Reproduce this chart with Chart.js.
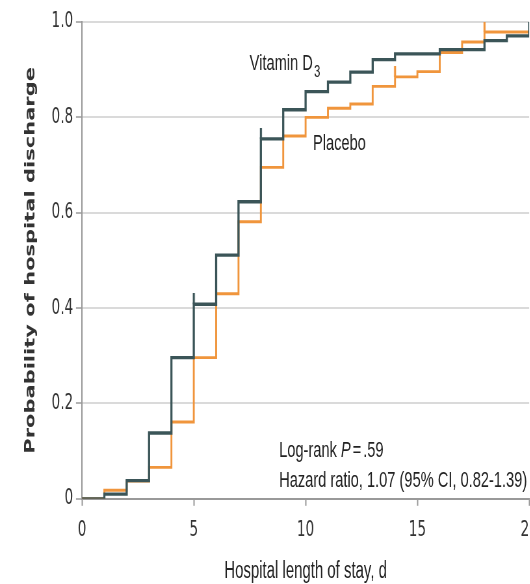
<!DOCTYPE html>
<html>
<head>
<meta charset="utf-8">
<script src="https://cdn.jsdelivr.net/npm/chart.js@4.4.1/dist/chart.umd.min.js"></script>
<style>
  html, body { margin: 0; padding: 0; background: #fff; overflow: hidden; }
  /* the figure is horizontally condensed, so draw it wide and squeeze it */
  #wrap { width: 840px; height: 584px; transform: scaleX(0.65); transform-origin: 0 0; }
</style>
</head>
<body>
<div id="wrap"><canvas id="kmChart"></canvas></div>
<script>
// hospital length of stay, days
const days = [0, 1, 2, 3, 4, 5, 6, 7, 8, 9, 10, 11, 12, 13, 14, 15, 16, 17, 18, 19, 20];

// cumulative probability of discharge at each day
const vitaminD3 = [0, 0.01, 0.038, 0.138, 0.296, 0.408, 0.511, 0.623, 0.755, 0.816, 0.854,
                   0.874, 0.895, 0.921, 0.933, 0.933, 0.942, 0.942, 0.961, 0.971, 1.0];
const placebo   = [0, 0.018, 0.037, 0.066, 0.161, 0.296, 0.430, 0.581, 0.695, 0.761, 0.800,
                   0.819, 0.828, 0.865, 0.885, 0.896, 0.936, 0.958, 0.979, 0.979, 0.979];

// censor marks
const vitaminCensored = [5, 8];
const placeboCensored = [14, 18];

const xTicks = [0, 5, 10, 15, 20];
const yTicks = [0, 0.2, 0.4, 0.6, 0.8, 1.0];

const darkColor = '#3b5558';
const orangeColor = '#f0953c';
const sans = "'Liberation Sans', Arial, sans-serif";

// small vertical tick, drawn above the point
function censorMark(color) {
    let c = document.createElement('canvas');
    c.width = 5;
    c.height = 22;
    let g = c.getContext('2d');
    g.strokeStyle = color;
    g.lineWidth = 3.2;
    g.beginPath();
    g.moveTo(2.5, 0);
    g.lineTo(2.5, 11);
    g.stroke();
    return c;
}

function curve(values) {
    return days.map((d, i) => ({ x: d, y: values[i] }));
}

function censorPoints(times, values) {
    return times.map(t => ({ x: t, y: values[days.indexOf(t)] }));
}

// text notes on the plot + x axis title
const notes = {
    id: 'notes',
    afterDatasetsDraw(chart) {
        const { ctx, scales: { x, y }, chartArea } = chart;
        ctx.save();
        ctx.fillStyle = '#222';
        ctx.textBaseline = 'alphabetic';
        ctx.textAlign = 'left';

        // Vitamin D3
        let px = x.getPixelForValue(7.5), py = y.getPixelForValue(0.90);
        ctx.font = '22.5px ' + sans;
        ctx.fillText('Vitamin D', px, py);
        let w = ctx.measureText('Vitamin D').width;
        ctx.font = '17px ' + sans;
        ctx.fillText('3', px + w + 2, py + 7);

        // Placebo
        ctx.font = '22.5px ' + sans;
        ctx.fillText('Placebo', x.getPixelForValue(10.33), y.getPixelForValue(0.732));

        // log-rank test
        px = x.getPixelForValue(8.82);
        py = y.getPixelForValue(0.087);
        ctx.fillText('Log-rank ', px, py);
        px += ctx.measureText('Log-rank ').width;
        ctx.font = 'italic 22.5px ' + sans;
        ctx.fillText('P', px, py);
        px += ctx.measureText('P').width + 3;
        ctx.font = '22.5px ' + sans;
        ctx.fillText('=', px, py);
        px += ctx.measureText('=').width + 3;
        ctx.fillText('.59', px, py);

        ctx.fillText('Hazard ratio, 1.07 (95% CI, 0.82-1.39)', x.getPixelForValue(8.82), y.getPixelForValue(0.025));

        // x axis title
        ctx.font = '23px ' + sans;
        ctx.textAlign = 'center';
        ctx.fillText('Hospital length of stay, d', (chartArea.left + chartArea.right) / 2, chart.height - 6);
        ctx.restore();
    }
};

let canvas = document.getElementById('kmChart');
let ctx = canvas.getContext('2d');
canvas.chart = new Chart(ctx, {
    type: 'line',
    data: {
        datasets: [{
            label: 'Vitamin D3',
            data: curve(vitaminD3),
            stepped: 'before',
            borderColor: darkColor,
            borderWidth: 3.3,
            pointRadius: 0,
            fill: false
        }, {
            label: 'Vitamin D3 censored',
            type: 'scatter',
            data: censorPoints(vitaminCensored, vitaminD3),
            pointStyle: censorMark(darkColor),
            pointRadius: 5
        }, {
            label: 'Placebo',
            data: curve(placebo),
            stepped: 'before',
            borderColor: orangeColor,
            borderWidth: 2.9,
            pointRadius: 0,
            fill: false
        }, {
            label: 'Placebo censored',
            type: 'scatter',
            data: censorPoints(placeboCensored, placebo),
            pointStyle: censorMark(orangeColor),
            pointRadius: 5
        }]
    },
    options: {
        responsive: true,
        maintainAspectRatio: false,
        animation: false,
        layout: { padding: { top: 22, left: 31.1, right: 0, bottom: 28 } },
        plugins: {
            legend: { display: false },
            tooltip: { enabled: false }
        },
        scales: {
            x: {
                type: 'linear',
                min: 0,
                max: 20,
                afterBuildTicks: s => { s.ticks = xTicks.map(v => ({ value: v })); },
                grid: {
                    drawOnChartArea: false,
                    drawTicks: true,
                    tickLength: 7,
                    tickColor: '#999',
                    tickWidth: 2
                },
                border: { color: '#999', width: 2 },
                ticks: {
                    padding: 12.5,
                    color: '#333',
                    maxRotation: 0,
                    font: { family: "'DejaVu Sans', sans-serif", size: 21 }
                }
            },
            y: {
                min: 0,
                max: 1,
                afterBuildTicks: s => { s.ticks = yTicks.map(v => ({ value: v })); },
                grid: {
                    color: c => (c.tick && c.tick.value === 0) ? 'rgba(0,0,0,0)' : '#dadada',
                    lineWidth: 2,
                    tickLength: 9.2,
                    tickColor: '#999',
                    tickWidth: 1.5
                },
                border: { color: '#999', width: 2 },
                ticks: {
                    padding: 4.2,
                    color: '#333',
                    font: { family: "'DejaVu Sans', sans-serif", size: 21 },
                    callback: v => v === 0 ? '0' : v.toFixed(1)
                },
                title: {
                    display: true,
                    text: 'Probability of hospital discharge',
                    color: '#333',
                    font: { family: "'DejaVu Sans', sans-serif", size: 21, weight: 'bold' },
                    padding: { top: 4, bottom: 14.8 }
                }
            }
        }
    },
    plugins: [notes]
});
</script>
</body>
</html>
